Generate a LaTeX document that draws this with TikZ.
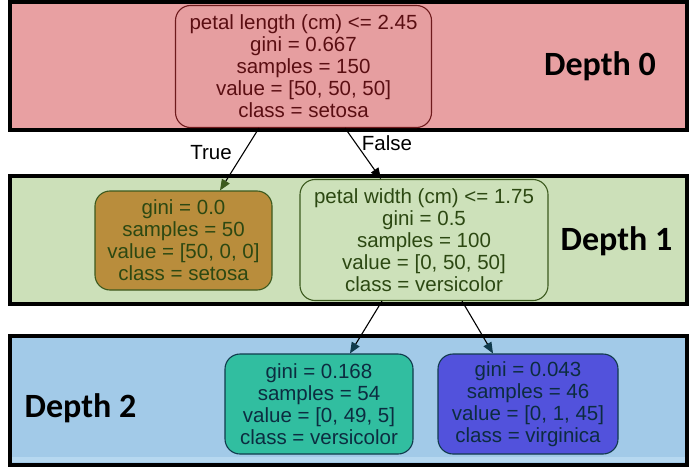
\documentclass[tikz,border=0pt]{standalone}
\usepackage{fontspec}
\setmainfont{Liberation Sans}
\newfontfamily\depthfont{Carlito}
\usetikzlibrary{arrows.meta,calc}
\definecolor{bandA}{HTML}{E8A0A2}
\definecolor{bandB}{HTML}{CCE0B9}
\definecolor{bandC}{HTML}{A2CAE8}
\definecolor{bandCl}{HTML}{B6D8F0}
\definecolor{rootfill}{HTML}{E69EA0}
\definecolor{rootdraw}{HTML}{6E1A1C}
\definecolor{roottext}{HTML}{5A0E12}
\definecolor{setfill}{HTML}{B98D3C}
\definecolor{greendraw}{HTML}{3C5A1E}
\definecolor{greentext}{HTML}{2C4812}
\definecolor{rightfill}{HTML}{CDE1BA}
\definecolor{versfill}{HTML}{31BEA0}
\definecolor{virgfill}{HTML}{5252DC}
\definecolor{bluedraw}{HTML}{103A4C}
\definecolor{bluetext}{HTML}{0C2C40}
\tikzset{
  band/.style={draw=black, line width=3.5pt},
  treenode/.style={rounded corners=15pt, line width=1.1pt, align=center, inner sep=0pt,
    font=\fontsize{20.5}{22}\selectfont},
  depthlabel/.style={font=\depthfont\bfseries\fontsize{34}{36}\selectfont, anchor=base, inner sep=0pt},
  edgelabel/.style={font=\fontsize{20.5}{22}\selectfont, inner sep=0pt},
  conn/.style={line width=1.1pt, draw=black},
}
\begin{document}
\begin{tikzpicture}[x=1pt,y=-1pt]
\useasboundingbox (0,0) rectangle (700,468);
\fill[white] (0,0) rectangle (700,468);
% bands
\filldraw[band, fill=bandA] (10,2) rectangle (687,130);
\filldraw[band, fill=bandB] (10,176) rectangle (687,304);
\filldraw[band, fill=bandC] (10,336) rectangle (687,465);
\fill[bandCl] (12,457) rectangle (685,462);
% nodes
\node[treenode, fill=rootfill, draw=rootdraw, text=roottext,
  minimum width=256pt, minimum height=122pt] (root) at (303.5,66.5)
  {petal length (cm) <= 2.45\\gini = 0.667\\samples = 150\\value = [50, 50, 50]\\class = setosa};
\node[treenode, fill=setfill, draw=greendraw, text=greentext,
  minimum width=177pt, minimum height=99pt] (left) at (183.5,240.5)
  {gini = 0.0\\samples = 50\\value = [50, 0, 0]\\class = setosa};
\node[treenode, fill=rightfill, draw=greendraw, text=greentext,
  minimum width=248pt, minimum height=121pt] (right) at (424,240)
  {petal width (cm) <= 1.75\\gini = 0.5\\samples = 100\\value = [0, 50, 50]\\class = versicolor};
\node[treenode, fill=versfill, draw=bluedraw, text=bluetext,
  minimum width=188pt, minimum height=100pt] (vers) at (319,404)
  {gini = 0.168\\samples = 54\\value = [0, 49, 5]\\class = versicolor};
\node[treenode, fill=virgfill, draw=bluedraw, text=bluetext,
  minimum width=180pt, minimum height=100pt] (virg) at (528,404)
  {gini = 0.043\\samples = 46\\value = [0, 1, 45]\\class = virginica};
% depth labels
\node[depthlabel] (d0) at (600,76) {Depth 0};
\node[depthlabel] (d1) at (616.5,250) {Depth 1};
\node[depthlabel] (d2) at (80.5,417) {Depth 2};
% connectors
\draw[conn, -{Triangle[length=11pt,width=9pt,color=greendraw]}]
  ($(root.south)+(-44.5,0)$) -- ($(left.north)+(36.5,0)$);
\draw[conn, -{Triangle[length=11pt,width=9pt,color=black]}]
  ($(root.south)+(41.5,0)$) -- ($(right.north)+(-43,0)$);
\draw[conn, -{Triangle[length=11pt,width=9pt,color=bluedraw]}]
  ($(right.south)+(-42,0)$) -- ($(vers.north)+(31,0)$);
\draw[conn, -{Triangle[length=11pt,width=9pt,color=bluedraw]}]
  ($(right.south)+(38,0)$) -- ($(virg.north)+(-35,0)$);
% edge labels
\node[edgelabel] (ltrue) at (211,153) {True};
\node[edgelabel] (lfalse) at (387,143) {False};
\end{tikzpicture}
\end{document}
